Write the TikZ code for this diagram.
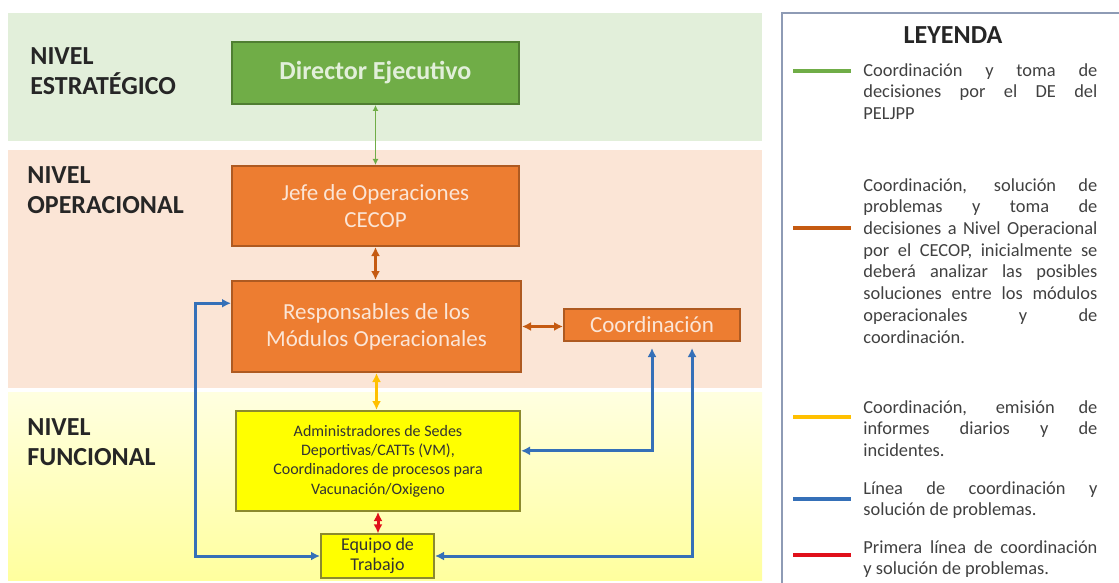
\documentclass[tikz,border=0pt]{standalone}
\usepackage{fontspec}
\setmainfont{Carlito}
\usetikzlibrary{calc,shapes,arrows.meta}
\definecolor{bandgreen}{HTML}{E2EFDA}
\definecolor{bandpeach}{HTML}{FBE5D6}
\definecolor{dirgreen}{HTML}{70AD47}
\definecolor{dirgreendark}{HTML}{507E32}
\definecolor{dirtext}{HTML}{E2EFDA}
\definecolor{oporange}{HTML}{ED7D31}
\definecolor{oporangedark}{HTML}{AE5A21}
\definecolor{optext}{HTML}{FBE5D6}
\definecolor{funyellow}{HTML}{FFFF00}
\definecolor{funborder}{HTML}{8C8A2E}
\definecolor{lnkgreen}{HTML}{70AD47}
\definecolor{lnkbrown}{HTML}{C55A11}
\definecolor{lnkgold}{HTML}{FFC000}
\definecolor{lnkblue}{HTML}{3570B8}
\definecolor{lnkred}{HTML}{E0101A}
\definecolor{legborder}{HTML}{8E9BB5}

\begin{document}
\begin{tikzpicture}[x=0.5pt,y=-0.5pt,
    nivel/.style={font=\fontsize{13}{15}\selectfont\bfseries, text=black!85, align=left, anchor=west, inner sep=0pt},
    box/.style={draw, line width=1pt, align=center, inner sep=2pt},
    greenbox/.style={box, fill=dirgreen, draw=dirgreendark, text=dirtext, font=\fontsize{13}{15}\selectfont\bfseries},
    orangebox/.style={box, fill=oporange, draw=oporangedark, text=optext, font=\fontsize{11.5}{13.5}\selectfont},
    yellowbox/.style={box, fill=funyellow, draw=funborder, text=black!80},
    link/.style={line width=1.5pt, {Latex[length=4.5pt,width=4.5pt]}-{Latex[length=4.5pt,width=4.5pt]}},
    legline/.style={line width=2pt},
    legtext/.style={anchor=north west, inner sep=0pt, text width=117pt, align=justify, font=\fontsize{9.2}{10.85}\selectfont, text=black!75}]
    \useasboundingbox (0,0) rectangle (1119,583);
    % niveles
    \fill[bandgreen] (8,13) rectangle (762,141);
    \fill[bandpeach] (8,150) rectangle (762,388);
    \shade[top color=yellow!12, bottom color=yellow!38] (8,392) rectangle (762,580);
    \node[nivel] (nest) at (30,71) {NIVEL\\ESTRATÉGICO};
    \node[nivel] (nope) at (27,190) {NIVEL\\OPERACIONAL};
    \node[nivel] (nfun) at (27,442) {NIVEL\\FUNCIONAL};
    % cajas
    \node[greenbox, minimum width=143.5pt, minimum height=31pt] (dir) at (375.5,73) {Director Ejecutivo};
    \node[orangebox, minimum width=143.5pt, minimum height=40pt] (jefe) at (375.5,206) {Jefe de Operaciones\\CECOP};
    \node[orangebox, minimum width=144.5pt, minimum height=45.5pt] (resp) at (376.5,326.5) {Responsables de los\\Módulos Operacionales};
    \node[orangebox, minimum width=88pt, minimum height=16pt] (coord) at (652,325) {Coordinación};
    \node[yellowbox, minimum width=142pt, minimum height=50pt, font=\fontsize{8}{9.7}\selectfont] (admin) at (378,461)
        {Administradores de Sedes\\Deportivas/CATTs (VM),\\Coordinadores de procesos para\\Vacunación/Oxigeno};
    \node[yellowbox, minimum width=56.5pt, minimum height=21pt, font=\fontsize{9}{9.8}\selectfont] (equipo) at (377.5,556) {Equipo de\\Trabajo};
    % conexiones
    \draw[lnkgreen, line width=0.75pt, {Latex[length=3pt,width=3pt]}-{Latex[length=3pt,width=3pt]}] (dir.south) -- (jefe.north);
    \draw[link, lnkbrown] (jefe.south) -- (jefe.south |- resp.north);
    \draw[link, lnkbrown] (resp.east) -- (resp.east -| coord.west);
    \draw[link, lnkgold] (resp.south) -- (resp.south |- admin.north);
    \draw[link, lnkred] (admin.south) -- (admin.south |- equipo.north);
    \coordinate (rin) at ($(resp.north west)!0.25!(resp.south west)$);
    \coordinate (lft) at (195,556);
    \coordinate (ain) at ($(admin.north east)!0.4!(admin.south east)$);
    \coordinate (cr) at ($(coord.south)!0.45!(coord.south east)$);
    \draw[link, lnkblue] (rin) -| (lft) -- (equipo.west);
    \draw[link, lnkblue, shorten >=3pt] (ain) -| (coord.south);
    \draw[link, lnkblue, shorten >=3pt] (equipo.east) -| (cr);
    % leyenda
    \draw[legborder, line width=1pt] (1119,13) -- (782,13) -- (782,583);
    \node[font=\fontsize{13}{15}\selectfont\bfseries, text=black!85] (ley) at (953,35) {LEYENDA};
    \draw[legline, lnkgreen] (793,71) -- (851,71);
    \node[legtext] (t1) at (863,63) {Coordinación y toma de\linebreak decisiones por el DE del\linebreak PELJPP};
    \draw[legline, lnkbrown] (793,228) -- (851,228);
    \node[legtext] (t2) at (863,178) {Coordinación, solución de\linebreak problemas y toma de\linebreak decisiones a Nivel Operacional\linebreak por el CECOP, inicialmente se\linebreak deberá analizar las posibles\linebreak soluciones entre los módulos\linebreak operacionales y de\linebreak coordinación.};
    \draw[legline, lnkgold] (793,417) -- (851,417);
    \node[legtext] (t3) at (863,400) {Coordinación, emisión de\linebreak informes diarios y de\linebreak incidentes.};
    \draw[legline, lnkblue] (793,499) -- (851,499);
    \node[legtext] (t4) at (863,481) {Línea de coordinación y\linebreak solución de problemas.};
    \draw[legline, lnkred] (793,555) -- (851,555);
    \node[legtext] (t5) at (863,540) {Primera línea de coordinación\linebreak y solución de problemas.};
\end{tikzpicture}
\end{document}
